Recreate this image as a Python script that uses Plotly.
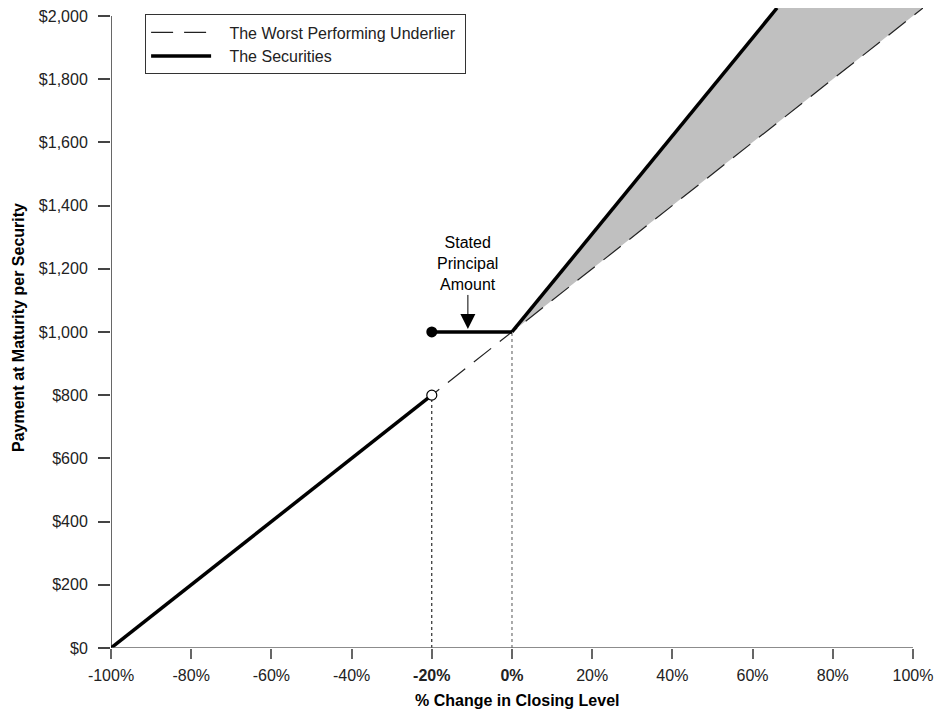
import plotly.graph_objects as go

# % change in closing level of the worst performing underlier
underlier_x = [-100, 102.5]
underlier_y = [0, 2025]

# payment at maturity per security, piecewise
sec_down_x = [-100, -20]
sec_down_y = [0, 800]
sec_flat_x = [-20, 0]
sec_flat_y = [1000, 1000]
sec_up_x = [0, 66.1]
sec_up_y = [1000, 2025]

x_ticks = [-100, -80, -60, -40, -20, 0, 20, 40, 60, 80, 100]
x_labels = ['-100%', '-80%', '-60%', '-40%', '<b>-20%</b>', '<b>0%</b>',
            '20%', '40%', '60%', '80%', '100%']
y_ticks = [0, 200, 400, 600, 800, 1000, 1200, 1400, 1600, 1800, 2000]
y_labels = ['${:,}'.format(v) for v in y_ticks]

FONT = 'Arial, Liberation Sans, sans-serif'
PAD = '\u00a0'

fig = go.Figure()

# shaded outperformance region
fig.add_trace(go.Scatter(
    x=[sec_up_x[0], sec_up_x[1], underlier_x[1], sec_up_x[0]],
    y=[sec_up_y[0], sec_up_y[1], underlier_y[1], sec_up_y[0]],
    fill='toself', fillcolor='#c0c0c0', mode='none',
    hoverinfo='skip', showlegend=False
))

# dotted guides
fig.add_trace(go.Scatter(
    x=[sec_down_x[1], sec_down_x[1]], y=[0, sec_down_y[1]],
    mode='lines', line=dict(color='black', width=1, dash='dot'),
    showlegend=False, hoverinfo='skip'
))
fig.add_trace(go.Scatter(
    x=[sec_flat_x[1], sec_flat_x[1]], y=[0, sec_flat_y[1]],
    mode='lines', line=dict(color='#555555', width=1, dash='dot'),
    showlegend=False, hoverinfo='skip'
))

fig.add_trace(go.Scatter(
    x=underlier_x, y=underlier_y, mode='lines',
    name=PAD * 3 + 'The Worst Performing Underlier' + PAD,
    line=dict(color='#222222', width=1.2, dash='22px,11px')
))

for i, (xs, ys) in enumerate([(sec_down_x, sec_down_y),
                              (sec_flat_x, sec_flat_y),
                              (sec_up_x, sec_up_y)]):
    fig.add_trace(go.Scatter(
        x=xs, y=ys, mode='lines', name=PAD * 3 + 'The Securities',
        line=dict(color='black', width=3.5),
        showlegend=(i == 0), legendgroup='sec'
    ))

# filled dot at principal, open dot at the barrier
fig.add_trace(go.Scatter(
    x=[sec_flat_x[0]], y=[sec_flat_y[0]], mode='markers',
    marker=dict(size=11, color='black'), showlegend=False
))
fig.add_trace(go.Scatter(
    x=[sec_down_x[1]], y=[sec_down_y[1]], mode='markers',
    marker=dict(size=10, color='white', line=dict(color='black', width=1.2)),
    showlegend=False
))

fig.add_annotation(
    x=-11, y=1000, ax=0, ay=-68,
    text='Stated<br>Principal<br>Amount',
    showarrow=True, arrowhead=2, arrowsize=3, arrowwidth=1,
    arrowcolor='black', standoff=3,
    font=dict(family=FONT, size=16, color='black')
)

# axis titles
fig.add_annotation(
    xref='paper', yref='paper', x=0, y=0.5, xshift=-93,
    xanchor='center', yanchor='middle',
    text='<b>Payment at Maturity per Security</b>', textangle=-90,
    showarrow=False, font=dict(family=FONT, size=16, color='black')
)
fig.add_annotation(
    xref='paper', yref='paper', x=0.5, y=0, yshift=-52,
    xanchor='center', yanchor='middle',
    text='<b>% Change in Closing Level</b>',
    showarrow=False, font=dict(family=FONT, size=16, color='black')
)

# axis lines only over the tick span
fig.add_shape(type='line', x0=x_ticks[0], x1=x_ticks[-1], y0=0, y1=0,
              line=dict(color='#666666', width=1.5))
fig.add_shape(type='line', x0=x_ticks[0], x1=x_ticks[0], y0=0, y1=y_ticks[-1],
              line=dict(color='black', width=1.2))

fig.update_layout(
    width=951, height=719,
    margin=dict(l=111, r=28, t=8, b=71),
    plot_bgcolor='white', paper_bgcolor='white',
    hovermode=False,
    font=dict(family=FONT, size=16, color='#222222'),
    legend=dict(
        x=0.042, y=0.99, xanchor='left', yanchor='top',
        bordercolor='#333333', borderwidth=1, bgcolor='white',
        font=dict(family=FONT, size=16, color='#222222'),
        itemwidth=60, tracegroupgap=0
    ),
    xaxis=dict(
        range=[-100, 102.5], tickvals=x_ticks, ticktext=x_labels,
        ticks='outside', ticklen=10, tickcolor='#666666', tickwidth=1.5,
        showgrid=False, zeroline=False, showline=False, automargin=False,
        ticklabelstandoff=3,
        tickfont=dict(family=FONT, size=16, color='#222222')
    ),
    yaxis=dict(
        range=[0, 2025], tickvals=y_ticks, ticktext=y_labels,
        ticks='outside', ticklen=12, tickcolor='#444444', tickwidth=1.5,
        showgrid=False, zeroline=False, showline=False, automargin=False,
        ticklabelstandoff=7,
        tickfont=dict(family=FONT, size=16, color='#222222')
    )
)

# drop the default 8px page margin so the figure sits at the window corner
fig.write_html("out.html", config={'displayModeBar': False},
               post_script="document.body.style.margin='0';")
